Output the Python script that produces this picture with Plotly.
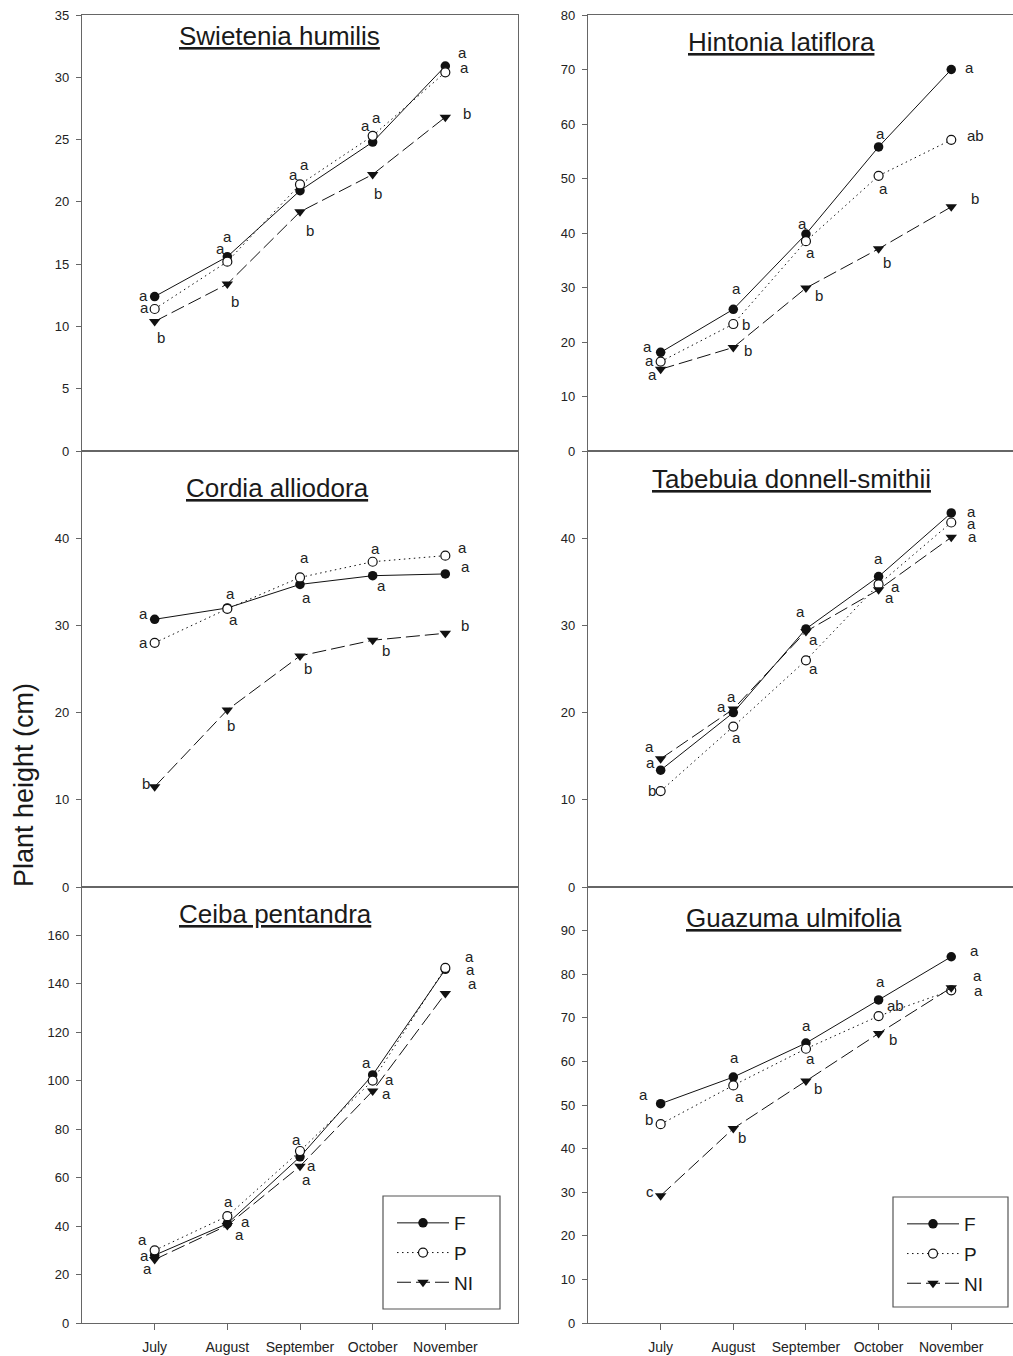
import plotly.graph_objects as go

W, H = 1013, 1356

months = ["July", "August", "September", "October", "November"]
treatments = ["F", "P", "NI"]

# ---------------- data (plant height, cm) ----------------
swietenia_F = [12.4, 15.6, 20.9, 24.8, 30.9]
swietenia_P = [11.4, 15.2, 21.4, 25.3, 30.4]
swietenia_NI = [10.4, 13.4, 19.2, 22.2, 26.8]
swietenia_F_sig = ["a", "a", "a", "a", "a"]
swietenia_P_sig = ["a", "a", "a", "a", "a"]
swietenia_NI_sig = ["b", "b", "b", "b", "b"]

hintonia_F = [18.1, 26.0, 39.8, 55.8, 70.0]
hintonia_P = [16.4, 23.3, 38.5, 50.5, 57.1]
hintonia_NI = [15.0, 19.0, 29.9, 37.1, 44.8]
hintonia_F_sig = ["a", "a", "a", "a", "a"]
hintonia_P_sig = ["a", "b", "a", "a", "ab"]
hintonia_NI_sig = ["a", "b", "b", "b", "b"]

cordia_F = [30.7, 32.0, 34.7, 35.7, 35.9]
cordia_P = [28.0, 31.9, 35.5, 37.3, 38.0]
cordia_NI = [11.5, 20.3, 26.5, 28.3, 29.1]
cordia_F_sig = ["a", "a", "a", "a", "a"]
cordia_P_sig = ["a", "a", "a", "a", "a"]
cordia_NI_sig = ["b", "b", "b", "b", "b"]

tabebuia_F = [13.4, 20.0, 29.6, 35.6, 42.9]
tabebuia_P = [11.0, 18.4, 26.0, 34.7, 41.8]
tabebuia_NI = [14.7, 20.4, 29.3, 34.1, 40.1]
tabebuia_F_sig = ["a", "a", "a", "a", "a"]
tabebuia_P_sig = ["b", "a", "a", "a", "a"]
tabebuia_NI_sig = ["a", "a", "a", "a", "a"]

ceiba_F = [28.0, 41.0, 68.6, 102.4, 146.0]
ceiba_P = [30.0, 44.1, 71.0, 100.1, 146.6]
ceiba_NI = [26.2, 40.3, 64.7, 95.8, 136.0]
ceiba_F_sig = ["a", "a", "a", "a", "a"]
ceiba_P_sig = ["a", "a", "a", "a", "a"]
ceiba_NI_sig = ["a", "a", "a", "a", "a"]

guazuma_F = [50.3, 56.4, 64.2, 74.1, 84.0]
guazuma_P = [45.6, 54.5, 62.9, 70.4, 76.3]
guazuma_NI = [29.2, 44.6, 55.5, 66.4, 76.9]
guazuma_F_sig = ["a", "a", "a", "a", "a"]
guazuma_P_sig = ["b", "a", "a", "ab", "a"]
guazuma_NI_sig = ["c", "b", "b", "b", "a"]

species = ["Swietenia humilis", "Hintonia latiflora", "Cordia alliodora",
           "Tabebuia donnell-smithii", "Ceiba pentandra", "Guazuma ulmifolia"]
y_max = [35, 80, 50, 50, 180, 100]
y_ticks = [list(range(0, 36, 5)), list(range(0, 81, 10)), list(range(0, 41, 10)),
           list(range(0, 41, 10)), list(range(0, 161, 20)), list(range(0, 91, 10))]

values = [
    [swietenia_F, swietenia_P, swietenia_NI],
    [hintonia_F, hintonia_P, hintonia_NI],
    [cordia_F, cordia_P, cordia_NI],
    [tabebuia_F, tabebuia_P, tabebuia_NI],
    [ceiba_F, ceiba_P, ceiba_NI],
    [guazuma_F, guazuma_P, guazuma_NI],
]
letters = [
    [swietenia_F_sig, swietenia_P_sig, swietenia_NI_sig],
    [hintonia_F_sig, hintonia_P_sig, hintonia_NI_sig],
    [cordia_F_sig, cordia_P_sig, cordia_NI_sig],
    [tabebuia_F_sig, tabebuia_P_sig, tabebuia_NI_sig],
    [ceiba_F_sig, ceiba_P_sig, ceiba_NI_sig],
    [guazuma_F_sig, guazuma_P_sig, guazuma_NI_sig],
]

# ---------------- layout / style (pixel offsets of letters) ----------------
letter_offsets = [
    [[(-11, 0), (0, 19), (-7, 15), (-7, 16), (17, 13)],
     [(-10, 0), (-7, 12), (4, 19), (4, 17), (19, 4)],
     [(6, -17), (8, -18), (10, -20), (5, -20), (22, 3)]],
    [[(-13, 5), (3, 20), (-3, 10), (2, 12), (18, 1)],
     [(-11, 0), (13, -1), (5, -12), (5, -14), (24, 3)],
     [(-8, -6), (15, -4), (13, -8), (8, -15), (24, 7)]],
    [[(-11, 5), (3, 13), (6, -14), (9, -11), (20, 6)],
     [(-11, -1), (6, -12), (4, 19), (3, 12), (17, 7)],
     [(-9, 2), (4, -17), (8, -14), (13, -11), (20, 7)]],
    [[(-10, 7), (-12, 5), (-5, 16), (0, 17), (20, 0)],
     [(-9, 0), (3, -12), (8, -9), (17, -3), (20, -2)],
     [(-11, 11), (-2, 12), (8, -9), (11, -9), (21, 0)]],
    [[(-10, -1), (18, 1), (11, -10), (-6, 11), (24, 12)],
     [(-12, 10), (1, 14), (-4, 11), (17, 0), (25, -3)],
     [(-7, -10), (12, -10), (6, -14), (14, -4), (27, 9)]],
    [[(-17, 8), (1, 19), (1, 17), (2, 17), (23, 5)],
     [(-12, 4), (6, -12), (5, -11), (17, 10), (27, -1)],
     [(-11, 3), (9, -10), (12, -8), (14, -7), (26, 11)]],
]

# title centres (px)
title_pos = [(279, 36), (781, 42), (277, 488), (791, 479), (275, 914), (794, 918)]

col_px = [(82, 518), (588, 1013)]
col_xrange = [[-1, 5], [-1, 4.85]]
row_px = [(15, 451), (451, 887), (887, 1323)]

# legend frames (px): x0, y0, x1, y1
legend_boxes = [(383, 1196, 500, 1309), (893, 1197, 1008, 1307)]

INK = "#111111"
AXC = "#666666"
TXT = "#222222"
FONT = "Liberation Sans, Arial, sans-serif"

styles = {
    "F": dict(line=dict(color=INK, width=1, dash="solid"),
              marker=dict(symbol="circle", size=9.5, color=INK)),
    "P": dict(line=dict(color=INK, width=1, dash="1.5px,3.5px"),
              marker=dict(symbol="circle", size=9, color="white", line=dict(color=INK, width=1.2))),
    "NI": dict(line=dict(color=INK, width=1, dash="14px,5px"),
               marker=dict(symbol="triangle-down", size=10, color=INK)),
}

fig = go.Figure()
annotations = []
shapes = []
layout = {}

x_idx = list(range(len(months)))

for k in range(6):
    n = k + 1
    row, col = k // 2, k % 2
    xs = "" if n == 1 else str(n)
    xa, ya = "x" + xs, "y" + xs
    x0, x1 = col_px[col]
    y0, y1 = row_px[row]
    bottom = row == 2

    layout["xaxis" + xs] = dict(
        domain=[x0 / W, x1 / W], range=col_xrange[col], anchor=ya,
        automargin=False,
        showline=True, mirror=True, linecolor=AXC, linewidth=1.2,
        showgrid=False, zeroline=False,
        tickmode="array", tickvals=x_idx, ticktext=months,
        ticks="outside" if bottom else "", ticklen=6, tickcolor=AXC,
        showticklabels=bottom, ticklabelstandoff=5,
        tickfont=dict(family=FONT, size=14, color=TXT),
    )
    layout["yaxis" + xs] = dict(
        domain=[1 - y1 / H, 1 - y0 / H], range=[0, y_max[k]], anchor=xa,
        automargin=False,
        showline=True, mirror=(col == 0), linecolor=AXC, linewidth=1.2,
        showgrid=False, zeroline=False,
        tickmode="array", tickvals=y_ticks[k],
        ticks="outside", ticklen=5, tickcolor=AXC, ticklabelstandoff=4,
        tickfont=dict(family=FONT, size=13, color=TXT),
    )

    for t, tr in enumerate(treatments):
        show = k >= 4
        legend_name = "legend" if k == 4 else "legend2"
        fig.add_trace(go.Scatter(
            x=x_idx, y=values[k][t], mode="lines+markers", name=tr,
            xaxis=xa, yaxis=ya, showlegend=show, legend=legend_name,
            legendgroup=f"{k}_{tr}", cliponaxis=False, **styles[tr]))
        for i in x_idx:
            dx, dy = letter_offsets[k][t][i]
            annotations.append(dict(
                x=i, y=values[k][t][i], xref=xa, yref=ya, text=letters[k][t][i],
                showarrow=False, xshift=dx, yshift=dy + 1,
                xanchor="center", yanchor="middle",
                font=dict(family=FONT, size=15, color=TXT)))

    tx, ty = title_pos[k]
    annotations.append(dict(
        x=tx / W, y=1 - ty / H, xref="paper", yref="paper",
        text="<u>" + species[k] + "</u>", showarrow=False,
        xanchor="center", yanchor="middle",
        font=dict(family=FONT, size=26, color="#1a1a1a")))

annotations.append(dict(
    x=24 / W, y=1 - 785 / H, xref="paper", yref="paper",
    text="Plant height (cm)", textangle=-90, showarrow=False,
    xanchor="center", yanchor="middle",
    font=dict(family=FONT, size=27, color="#1a1a1a")))

for (bx0, by0, bx1, by1) in legend_boxes:
    shapes.append(dict(
        type="rect", xref="paper", yref="paper", layer="above",
        x0=bx0 / W, x1=bx1 / W, y0=1 - by1 / H, y1=1 - by0 / H,
        line=dict(color="#555555", width=1.2), fillcolor="white"))

legend_common = dict(
    xanchor="left", yanchor="top", bgcolor="rgba(0,0,0,0)",
    borderwidth=0,
    font=dict(family=FONT, size=19, color="#1a1a1a"),
    itemwidth=52, tracegroupgap=2, traceorder="grouped",
)

fig.update_layout(
    width=W, height=H,
    margin=dict(l=0, r=0, t=0, b=0, autoexpand=False),
    paper_bgcolor="white", plot_bgcolor="white",
    annotations=annotations,
    shapes=shapes,
    legend=dict(x=(legend_boxes[0][0] + 9) / W, y=1 - (legend_boxes[0][1] + 8) / H, **legend_common),
    legend2=dict(x=(legend_boxes[1][0] + 9) / W, y=1 - (legend_boxes[1][1] + 8) / H, **legend_common),
    **layout,
)

fig.write_html("out.html", config={"displayModeBar": False},
               post_script="document.body.style.margin='0';")
